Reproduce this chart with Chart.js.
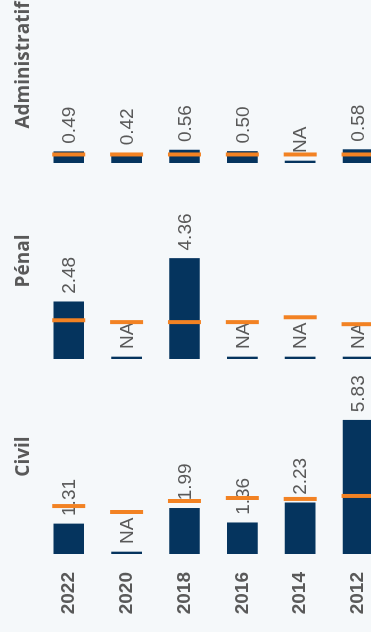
<!DOCTYPE html>
<html>
<head>
<meta charset="utf-8">
<script src="https://cdn.jsdelivr.net/npm/chart.js@4"></script>
<style>
  html, body { margin: 0; padding: 0; background: #f5f8fa; width: 371px; height: 632px; overflow: hidden; }
  /* charts are laid out side by side, then the whole block is turned a quarter left */
  #wrap { position: absolute; left: 0; top: 0; width: 665px; height: 400px; display: flex;
          transform-origin: 0 0; transform: translateY(632px) rotate(-90deg); }
  canvas { display: block; }
</style>
</head>
<body>
<div id="wrap">
  <canvas id="civil" width="273" height="400"></canvas>
  <canvas id="penal" width="196" height="400"></canvas>
  <canvas id="admin" width="196" height="400"></canvas>
</div>
<script>
// === DATA ===
const years = ["2022", "2020", "2018", "2016", "2014", "2012"];

const civil = [1.31, null, 1.99, 1.36, 2.23, 5.83];
const civilRef = [2.09, 1.83, 2.31, 2.44, 2.40, 2.53];

const penal = [2.48, null, 4.36, null, null, null];
const penalRef = [1.68, 1.60, 1.60, 1.60, 1.81, 1.51];

const admin = [0.49, 0.42, 0.56, 0.50, null, 0.58];
const adminRef = [0.37, 0.37, 0.37, 0.37, 0.37, 0.37];

const navy = "#05345e";
const orange = "#f28223";
const grey = "#595959";
const titleFont = "'Open Sans', 'Liberation Sans', sans-serif";
const numFont = "'Liberation Sans', Arial, sans-serif";

// === VALUE LABELS (drawn right after the bars, so the markers sit on top) ===
const valueLabels = {
    id: "valueLabels",
    afterDatasetDraw(chart, args) {
        const ds = chart.data.datasets[args.index];
        if (ds.type !== "bar") return;
        const ctx = chart.ctx;
        ctx.save();
        ctx.font = "19px " + numFont;
        ctx.fillStyle = grey;
        ctx.textAlign = "left";
        ctx.textBaseline = "middle";
        args.meta.data.forEach((bar, i) => {
            const v = ds.source[i];
            ctx.fillText(v == null ? "NA" : v.toFixed(2), bar.x + 8, bar.y + 1);
        });
        ctx.restore();
    }
};

// === ONE PANEL ===
function panel(id, title, values, refs, showYears) {
    new Chart(document.getElementById(id), {
        type: "bar",
        data: {
            labels: years,
            datasets: [
                {
                    type: "line",
                    data: refs,
                    indexAxis: "y",
                    showLine: false,
                    pointStyle: "line",
                    pointRadius: 16.5,
                    pointHoverRadius: 16.5,
                    pointBorderWidth: 4,
                    pointBorderColor: orange,
                    pointRotation: 90,
                    clip: false,
                    order: 0
                },
                {
                    type: "bar",
                    data: values.map(v => v ?? 0),
                    source: values,
                    backgroundColor: navy,
                    barThickness: 30,
                    minBarLength: 2,
                    order: 1
                }
            ]
        },
        options: {
            indexAxis: "y",
            responsive: false,
            animation: false,
            layout: { autoPadding: false, padding: { bottom: 13 } },
            plugins: {
                legend: { display: false },
                tooltip: { enabled: false },
                title: {
                    display: true,
                    text: title,
                    fullSize: false,
                    color: grey,
                    font: { family: titleFont, size: 19, weight: "bold" },
                    padding: { top: 12, bottom: 5 }
                }
            },
            scales: {
                x: { display: false, min: 0, max: 8.5 },
                y: {
                    display: showYears,
                    grid: { display: false },
                    border: { display: false },
                    ticks: { color: grey, font: { family: numFont, size: 19, weight: "bold" }, padding: 10 },
                    // fixed width, and no extra room for the end labels
                    afterFit: showYears ? s => { s.width = 78; s.paddingTop = 0; s.paddingBottom = 0; } : undefined
                }
            }
        },
        plugins: [valueLabels]
    });
}

panel("civil", "Civil", civil, civilRef, true);
panel("penal", "Pénal", penal, penalRef, false);
panel("admin", "Administratif", admin, adminRef, false);
</script>
</body>
</html>
